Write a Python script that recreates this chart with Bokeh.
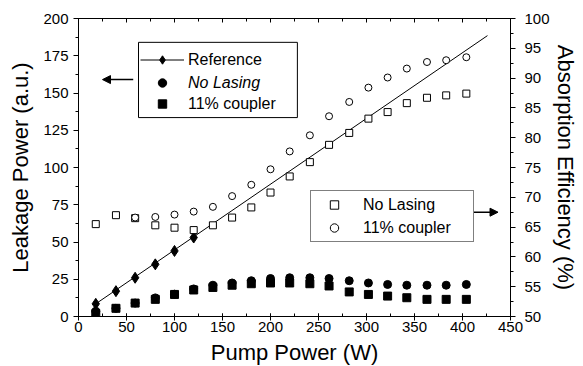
from bokeh.plotting import figure
from bokeh.models import (Range1d, LinearAxis, Legend, LegendItem, Arrow, NormalHead,
                          BoxAnnotation, SingleIntervalTicker, CustomJSTickFormatter)
from bokeh.embed import file_html
from bokeh.resources import INLINE

# ---- data ----
pump_power = [18, 39, 59, 80, 100, 120, 140, 160, 180, 200, 220, 241, 261, 282, 302, 322, 342, 363, 383, 404]

ref_power = [18, 39, 59, 80, 100, 120]
ref_leakage = [8.5, 17, 26, 35, 44, 53]
ref_fit_power = [18, 426]
ref_fit_leakage = [8.5, 188.5]

nolasing_leakage = [3.5, 5.5, 9, 12.5, 15, 18.5, 21, 22.5, 24, 25.5, 26, 26, 25.5, 24, 22.5, 21.5, 21, 21, 21, 21.5]
coupler_leakage = [2, 5.5, 9, 11.5, 14.8, 17.8, 19.5, 21, 22, 22.5, 22.5, 22, 20.5, 16.5, 14.8, 13.7, 12.6, 11.5, 11.5, 11.5]

nolasing_absorption = [65.5, 67, 66.5, 65.3, 64.9, 64.5, 65.3, 66.6, 68.3, 70.8, 73.5, 75.9, 78.8, 80.8, 83.2, 84.3, 85.8, 86.7, 87.1, 87.4]
coupler_abs_power = [59, 80, 100, 120, 140, 160, 180, 200, 220, 241, 261, 282, 302, 322, 342, 363, 383, 404]
coupler_absorption = [66.6, 66.7, 67.1, 67.6, 68.4, 70.2, 72.1, 74.7, 77.7, 80.4, 83.6, 86.0, 88.4, 90.1, 91.6, 92.7, 93.0, 93.5]

FONT = "Liberation Sans"

p = figure(frame_width=432, frame_height=298, output_backend="svg", toolbar_location=None,
           x_range=Range1d(0, 450), y_range=Range1d(0, 200),
           min_border_left=78, min_border_right=72, min_border_top=18, min_border_bottom=50)
p.extra_y_ranges = {"abs": Range1d(50, 100)}
p.xgrid.visible = False
p.ygrid.visible = False
p.outline_line_color = "black"
p.outline_line_width = 1
p.background_fill_color = "white"
p.border_fill_color = "white"

def style_axis(ax):
    ax.axis_line_color = "black"
    ax.major_tick_line_color = "black"
    ax.minor_tick_line_color = "black"
    ax.major_label_text_font = FONT
    ax.major_label_text_font_size = "15px"
    ax.major_label_text_color = "black"
    ax.axis_label_text_font = FONT
    ax.axis_label_text_font_size = "22px"
    ax.axis_label_text_font_style = "normal"
    ax.axis_label_text_color = "black"

# bottom axis
xa = p.xaxis[0]
xa.ticker = SingleIntervalTicker(interval=50, num_minor_ticks=2)
style_axis(xa)
xa.axis_label = "Pump Power (W)"
xa.major_tick_in = 3
xa.major_tick_out = 4
xa.minor_tick_in = 3
xa.minor_tick_out = 0
xa.major_label_standoff = 1
xa.axis_label_standoff = 5

# left axis
ya = p.yaxis[0]
ya.ticker = SingleIntervalTicker(interval=25, num_minor_ticks=2)
style_axis(ya)
ya.axis_label = "Leakage Power (a.u.)"
ya.major_tick_in = 0
ya.major_tick_out = 5
ya.minor_tick_in = 0
ya.minor_tick_out = 3
ya.major_label_standoff = 5
ya.axis_label_standoff = 7

# right axis
ra = LinearAxis(y_range_name="abs", ticker=SingleIntervalTicker(interval=5, num_minor_ticks=2))
style_axis(ra)
ra.axis_label = "Absorption Efficiency (%)"
ra.major_tick_in = 0
ra.major_tick_out = 5
ra.minor_tick_in = 0
ra.minor_tick_out = 3
ra.major_label_standoff = 9
ra.axis_label_standoff = 0
p.add_layout(ra, "right")

# top axis: ticks only
ta = LinearAxis(ticker=SingleIntervalTicker(interval=50, num_minor_ticks=2),
                formatter=CustomJSTickFormatter(code="return ''"))
ta.axis_line_color = "black"
ta.major_tick_in = 4
ta.major_tick_out = 0
ta.minor_tick_in = 3
ta.minor_tick_out = 0
ta.major_label_text_font_size = "1px"
ta.major_label_standoff = 0
p.add_layout(ta, "above")

# ---- data marks ----
fit_r = p.line(ref_fit_power, ref_fit_leakage, line_color="black", line_width=1)
ref_r = p.scatter(ref_power, ref_leakage, marker="diamond", size=11,
                  fill_color="black", line_color="black")
nl_leak_r = p.scatter(pump_power, nolasing_leakage, marker="circle", size=8,
                      fill_color="black", line_color="black")
cp_leak_r = p.scatter(pump_power, coupler_leakage, marker="square", size=8,
                      fill_color="black", line_color="black")
nl_abs_r = p.scatter(pump_power, nolasing_absorption, marker="square", size=7,
                     fill_color="white", line_color="black", line_width=1, y_range_name="abs")
cp_abs_r = p.scatter(coupler_abs_power, coupler_absorption, marker="circle", size=7,
                     fill_color="white", line_color="black", line_width=1, y_range_name="abs")

# ---- legends ----
def style_legend(lg):
    lg.label_text_font = FONT
    lg.label_text_font_size = "16px"
    lg.label_text_color = "black"
    lg.glyph_height = 21
    lg.label_height = 21
    lg.margin = 0

# frame of the first legend (leakage series)
p.add_layout(BoxAnnotation(left=62.5, right=228, top=184, bottom=133.5,
                           fill_color="white", fill_alpha=1,
                           line_color="black", line_width=1, line_alpha=1))

def row_legend(label, renderers, y, italic=False):
    lg = Legend(items=[LegendItem(label=label, renderers=renderers)], location=(62, y))
    style_legend(lg)
    lg.border_line_color = None
    lg.background_fill_alpha = 0
    lg.glyph_width = 44
    lg.label_standoff = 4
    lg.padding = 0
    if italic:
        lg.label_text_font_style = "italic"
    p.add_layout(lg, "center")

row_legend("Reference", [fit_r, ref_r], 246)
row_legend("No Lasing", [nl_leak_r], 223, italic=True)
row_legend("11% coupler", [cp_leak_r], 202)

leg2 = Legend(items=[LegendItem(label="No Lasing", renderers=[nl_abs_r]),
                     LegendItem(label="11% coupler", renderers=[cp_abs_r])],
              location=(232, 74))
style_legend(leg2)
leg2.border_line_color = "black"
leg2.border_line_width = 1
leg2.background_fill_color = "white"
leg2.background_fill_alpha = 1
leg2.glyph_width = 40
leg2.padding = 3
leg2.spacing = 2
leg2.label_standoff = 9
leg2.label_width = 107
p.add_layout(leg2, "center")

# arrows pointing to the axes
p.add_layout(Arrow(end=NormalHead(size=8, fill_color="black", line_color="black"),
                   x_start=57, y_start=159, x_end=25, y_end=159,
                   line_color="black", line_width=1.5))
p.add_layout(Arrow(end=NormalHead(size=8, fill_color="black", line_color="black"),
                   x_start=410, y_start=70, x_end=437, y_end=70,
                   line_color="black", line_width=1.5))

open("out.html", "w").write(file_html(p, INLINE))
